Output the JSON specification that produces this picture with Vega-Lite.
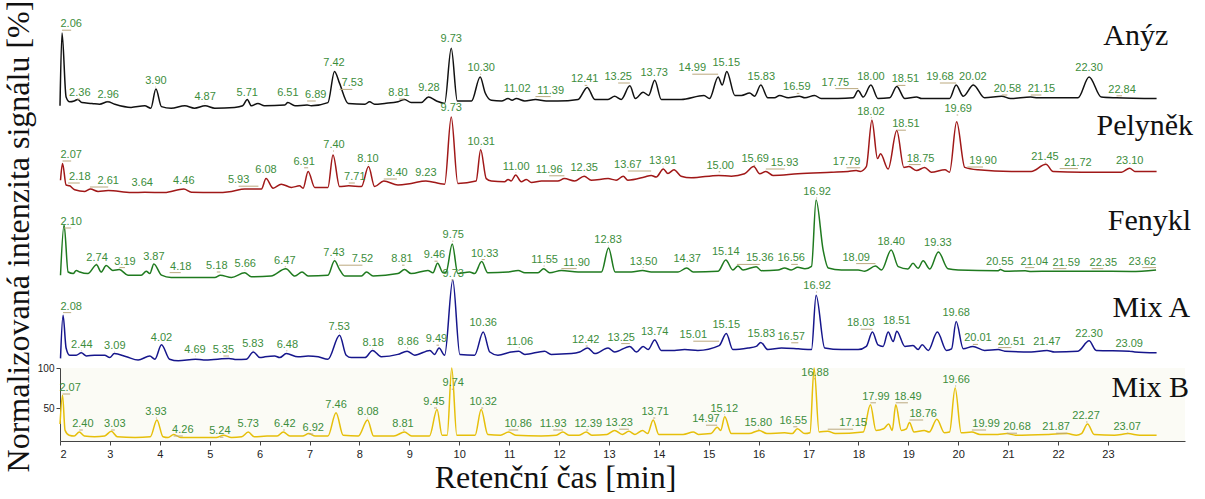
{
"$schema": "https://vega.github.io/schema/vega-lite/v6.json",
"padding": {"left": 1, "top": 0, "right": 0, "bottom": 0},
"background": "white",
"spacing": 0,
"bounds": "flush",
"config": {"view": {"stroke": null}, "line": {"interpolate": "monotone", "strokeWidth": 1.5}, "axis": {"labelFont": "Liberation Sans", "labelColor": "#222", "domainColor": "#444", "tickColor": "#444", "grid": false}},
"datasets": {
"anyz": [{"t":2.02,"v":9},{"t":2.06,"v":100},{"t":2.14,"v":20},{"t":2.21,"v":14},{"t":2.3,"v":15},{"t":2.37,"v":17},{"t":2.45,"v":13},{"t":2.65,"v":12},{"t":2.8,"v":11},{"t":2.96,"v":14},{"t":3.1,"v":11},{"t":3.42,"v":7},{"t":3.69,"v":9},{"t":3.81,"v":6},{"t":3.91,"v":30},{"t":4.02,"v":8},{"t":4.21,"v":6},{"t":4.48,"v":9},{"t":4.67,"v":6},{"t":4.88,"v":9},{"t":5.07,"v":6},{"t":5.46,"v":7},{"t":5.62,"v":9},{"t":5.71,"v":17},{"t":5.79,"v":9},{"t":5.92,"v":12},{"t":6.05,"v":9},{"t":6.45,"v":10},{"t":6.51,"v":13},{"t":6.65,"v":9},{"t":6.89,"v":10},{"t":6.97,"v":9},{"t":7.3,"v":13},{"t":7.43,"v":52},{"t":7.53,"v":37},{"t":7.7,"v":12},{"t":8.03,"v":11},{"t":8.12,"v":14},{"t":8.22,"v":11},{"t":8.42,"v":12},{"t":8.68,"v":14},{"t":8.81,"v":17},{"t":8.94,"v":13},{"t":9.14,"v":13},{"t":9.28,"v":20},{"t":9.44,"v":15},{"t":9.6,"v":12},{"t":9.73,"v":81},{"t":9.85,"v":15},{"t":10.13,"v":15},{"t":10.3,"v":45},{"t":10.4,"v":25},{"t":10.52,"v":16},{"t":10.72,"v":15},{"t":10.85,"v":18},{"t":10.93,"v":16},{"t":11.01,"v":18},{"t":11.18,"v":15},{"t":11.39,"v":17},{"t":11.6,"v":15},{"t":11.83,"v":15},{"t":12.23,"v":17},{"t":12.41,"v":32},{"t":12.56,"v":17},{"t":12.82,"v":17},{"t":12.95,"v":21},{"t":13.08,"v":17},{"t":13.25,"v":34},{"t":13.36,"v":18},{"t":13.51,"v":26},{"t":13.62,"v":22},{"t":13.74,"v":41},{"t":13.87,"v":17},{"t":14.26,"v":17},{"t":14.71,"v":22},{"t":14.82,"v":18},{"t":14.99,"v":45},{"t":15.07,"v":35},{"t":15.16,"v":52},{"t":15.32,"v":22},{"t":15.45,"v":22},{"t":15.61,"v":25},{"t":15.71,"v":21},{"t":15.83,"v":35},{"t":15.97,"v":19},{"t":16.1,"v":19},{"t":16.2,"v":22},{"t":16.37,"v":19},{"t":16.59,"v":21},{"t":16.7,"v":19},{"t":16.89,"v":22},{"t":17.02,"v":18},{"t":17.35,"v":18},{"t":17.65,"v":19},{"t":17.75,"v":28},{"t":17.85,"v":20},{"t":18,"v":35},{"t":18.14,"v":18},{"t":18.37,"v":19},{"t":18.51,"v":33},{"t":18.67,"v":18},{"t":18.9,"v":20},{"t":19,"v":18},{"t":19.55,"v":18},{"t":19.68,"v":35},{"t":19.82,"v":21},{"t":20.02,"v":35},{"t":20.24,"v":19},{"t":20.58,"v":21},{"t":20.75,"v":18},{"t":21.15,"v":20},{"t":21.29,"v":19},{"t":22.08,"v":19},{"t":22.3,"v":45},{"t":22.54,"v":20},{"t":22.84,"v":19},{"t":23.63,"v":18}],
"anyzPk": [{"t":2.06,"lt":2.24,"lv":111},{"t":2.36,"lt":2.41,"lv":25},{"t":2.96,"lt":2.97,"lv":22.5},{"t":3.9,"lt":3.91,"lv":40},{"t":4.87,"lt":4.88,"lv":20},{"t":5.71,"lt":5.71,"lv":25},{"t":6.51,"lt":6.51,"lv":25},{"t":6.89,"lt":7.06,"lv":22.5},{"t":7.42,"lt":7.42,"lv":62},{"t":7.53,"lt":7.78,"lv":37},{"t":8.81,"lt":8.7,"lv":25},{"t":9.28,"lt":9.29,"lv":31},{"t":9.73,"lt":9.73,"lv":92},{"t":10.3,"lt":10.32,"lv":56},{"t":11.02,"lt":11.03,"lv":29.6},{"t":11.39,"lt":11.69,"lv":28},{"t":12.41,"lt":12.36,"lv":42},{"t":13.25,"lt":13.02,"lv":45},{"t":13.73,"lt":13.73,"lv":50},{"t":14.99,"lt":14.48,"lv":56},{"t":15.15,"lt":15.15,"lv":63},{"t":15.83,"lt":15.84,"lv":45},{"t":16.59,"lt":16.54,"lv":32},{"t":17.75,"lt":17.3,"lv":38},{"t":18.0,"lt":18.0,"lv":45},{"t":18.51,"lt":18.68,"lv":42},{"t":19.68,"lt":19.36,"lv":45},{"t":20.02,"lt":20.01,"lv":45},{"t":20.58,"lt":20.69,"lv":30},{"t":21.15,"lt":21.36,"lv":30},{"t":22.3,"lt":22.3,"lv":56.6},{"t":22.84,"lt":22.95,"lv":29}],
"pelynek": [{"t":2.03,"v":21},{"t":2.07,"v":42},{"t":2.14,"v":15},{"t":2.21,"v":14},{"t":2.31,"v":9},{"t":2.51,"v":7},{"t":2.62,"v":10},{"t":2.77,"v":7},{"t":2.97,"v":8},{"t":3.43,"v":5.5},{"t":3.69,"v":6},{"t":4.08,"v":5.5},{"t":4.46,"v":10},{"t":4.61,"v":6},{"t":5.07,"v":5.5},{"t":5.4,"v":7},{"t":5.66,"v":10},{"t":5.99,"v":10},{"t":6.08,"v":23},{"t":6.22,"v":11},{"t":6.38,"v":16},{"t":6.58,"v":12},{"t":6.74,"v":14},{"t":6.81,"v":11},{"t":6.91,"v":32},{"t":7.04,"v":12},{"t":7.3,"v":12},{"t":7.4,"v":52.5},{"t":7.53,"v":13},{"t":7.71,"v":14},{"t":7.96,"v":13},{"t":8.1,"v":38},{"t":8.22,"v":13},{"t":8.4,"v":20},{"t":8.68,"v":15},{"t":8.94,"v":17},{"t":9.23,"v":20},{"t":9.6,"v":16},{"t":9.73,"v":100},{"t":9.86,"v":17},{"t":10.22,"v":20},{"t":10.31,"v":59},{"t":10.42,"v":23},{"t":10.52,"v":20},{"t":10.78,"v":19},{"t":10.85,"v":22},{"t":10.91,"v":20},{"t":11.0,"v":27.5},{"t":11.11,"v":19},{"t":11.21,"v":22},{"t":11.31,"v":18},{"t":11.51,"v":20},{"t":11.83,"v":20},{"t":11.96,"v":23},{"t":12.16,"v":20},{"t":12.35,"v":26},{"t":12.49,"v":21},{"t":12.82,"v":23},{"t":12.98,"v":21},{"t":13.12,"v":26},{"t":13.21,"v":21},{"t":13.54,"v":25},{"t":13.67,"v":27},{"t":13.77,"v":25},{"t":13.91,"v":35},{"t":14.0,"v":29.5},{"t":14.12,"v":34},{"t":14.26,"v":26},{"t":14.46,"v":24},{"t":15.0,"v":27},{"t":15.25,"v":26},{"t":15.51,"v":29},{"t":15.69,"v":38},{"t":15.81,"v":29},{"t":15.93,"v":32},{"t":16.07,"v":27},{"t":16.56,"v":29},{"t":17.22,"v":31},{"t":17.55,"v":32},{"t":17.71,"v":33},{"t":17.79,"v":32},{"t":17.91,"v":38},{"t":18.02,"v":96},{"t":18.13,"v":48},{"t":18.19,"v":54},{"t":18.34,"v":35},{"t":18.51,"v":83},{"t":18.65,"v":37},{"t":18.75,"v":38},{"t":18.9,"v":33},{"t":19.06,"v":37},{"t":19.19,"v":31},{"t":19.46,"v":34},{"t":19.55,"v":31},{"t":19.69,"v":94},{"t":19.85,"v":37},{"t":20.11,"v":34},{"t":20.77,"v":32},{"t":21.16,"v":32},{"t":21.45,"v":41},{"t":21.59,"v":32},{"t":22.15,"v":31},{"t":22.94,"v":31},{"t":23.1,"v":36},{"t":23.2,"v":32},{"t":23.63,"v":32}],
"pelynekPk": [{"t":2.07,"lt":2.24,"lv":52.5},{"t":2.18,"lt":2.41,"lv":25},{"t":2.61,"lt":2.97,"lv":20},{"t":3.64,"lt":3.64,"lv":18},{"t":4.46,"lt":4.46,"lv":20},{"t":5.93,"lt":5.54,"lv":21},{"t":6.08,"lt":6.08,"lv":34},{"t":6.91,"lt":6.83,"lv":44},{"t":7.4,"lt":7.42,"lv":65},{"t":7.71,"lt":7.83,"lv":25},{"t":8.1,"lt":8.09,"lv":48},{"t":8.4,"lt":8.66,"lv":30},{"t":9.23,"lt":9.23,"lv":30},{"t":9.73,"lt":9.73,"lv":111},{"t":10.31,"lt":10.32,"lv":69},{"t":11.0,"lt":11.01,"lv":38},{"t":11.96,"lt":11.66,"lv":34},{"t":12.35,"lt":12.35,"lv":36},{"t":13.67,"lt":13.21,"lv":40},{"t":13.91,"lt":13.9,"lv":45},{"t":15.0,"lt":15.03,"lv":39},{"t":15.69,"lt":15.72,"lv":47},{"t":15.93,"lt":16.3,"lv":42.5},{"t":17.79,"lt":17.52,"lv":44},{"t":18.02,"lt":18.0,"lv":106.6},{"t":18.51,"lt":18.69,"lv":91},{"t":18.75,"lt":18.98,"lv":48},{"t":19.69,"lt":19.72,"lv":110},{"t":19.9,"lt":20.21,"lv":45},{"t":21.45,"lt":21.43,"lv":50},{"t":21.72,"lt":22.08,"lv":43},{"t":23.1,"lt":23.1,"lv":45}],
"fenykl": [{"t":2.03,"v":6},{"t":2.1,"v":69},{"t":2.18,"v":10},{"t":2.28,"v":8},{"t":2.34,"v":12},{"t":2.41,"v":10},{"t":2.57,"v":8},{"t":2.74,"v":19},{"t":2.83,"v":10},{"t":2.93,"v":18},{"t":3.06,"v":12},{"t":3.19,"v":13},{"t":3.36,"v":6},{"t":3.62,"v":6},{"t":3.72,"v":11},{"t":3.79,"v":8},{"t":3.87,"v":20},{"t":4.02,"v":6},{"t":4.21,"v":3},{"t":5.07,"v":3},{"t":5.18,"v":6},{"t":5.4,"v":3},{"t":5.66,"v":9},{"t":5.79,"v":4},{"t":6.18,"v":5},{"t":6.47,"v":14},{"t":6.65,"v":5},{"t":6.79,"v":10},{"t":6.91,"v":5},{"t":7.3,"v":6},{"t":7.43,"v":24},{"t":7.53,"v":13},{"t":7.63,"v":5},{"t":7.96,"v":5},{"t":8.06,"v":10},{"t":8.19,"v":5},{"t":8.68,"v":8},{"t":8.81,"v":13},{"t":8.94,"v":8},{"t":9.27,"v":12},{"t":9.37,"v":9},{"t":9.46,"v":21},{"t":9.57,"v":9},{"t":9.63,"v":10},{"t":9.75,"v":45},{"t":9.86,"v":8},{"t":10.09,"v":10},{"t":10.19,"v":8},{"t":10.33,"v":23},{"t":10.45,"v":9},{"t":10.85,"v":10},{"t":11.05,"v":12},{"t":11.18,"v":9},{"t":11.44,"v":9},{"t":11.55,"v":14},{"t":11.67,"v":9},{"t":11.9,"v":12},{"t":12.23,"v":10},{"t":12.69,"v":10},{"t":12.83,"v":40},{"t":12.96,"v":10},{"t":13.28,"v":10},{"t":13.5,"v":12},{"t":13.67,"v":10},{"t":14.2,"v":10},{"t":14.37,"v":15},{"t":14.5,"v":10},{"t":14.99,"v":11},{"t":15.14,"v":25},{"t":15.28,"v":12.5},{"t":15.38,"v":17.5},{"t":15.48,"v":12.5},{"t":15.74,"v":16.7},{"t":15.84,"v":11.7},{"t":16.17,"v":12.5},{"t":16.3,"v":15},{"t":16.43,"v":12.5},{"t":16.56,"v":15.8},{"t":16.7,"v":14},{"t":16.83,"v":17},{"t":16.92,"v":100},{"t":17.06,"v":37},{"t":17.16,"v":15},{"t":17.42,"v":12.5},{"t":17.75,"v":12.5},{"t":17.88,"v":11},{"t":18.09,"v":17.5},{"t":18.21,"v":12.5},{"t":18.4,"v":37.5},{"t":18.54,"v":16.7},{"t":18.73,"v":13.75},{"t":18.83,"v":20.8},{"t":18.93,"v":14.6},{"t":19.03,"v":24},{"t":19.16,"v":13.75},{"t":19.33,"v":35},{"t":19.52,"v":14},{"t":19.72,"v":12.5},{"t":20.51,"v":11.7},{"t":20.55,"v":13},{"t":20.64,"v":11},{"t":21.04,"v":11.5},{"t":21.16,"v":10.6},{"t":21.59,"v":11},{"t":22.35,"v":11},{"t":23.13,"v":10.6},{"t":23.62,"v":12.5}],
"fenyklPk": [{"t":2.1,"lt":2.24,"lv":72.5},{"t":2.74,"lt":2.75,"lv":28},{"t":3.19,"lt":3.3,"lv":23},{"t":3.87,"lt":3.87,"lv":29},{"t":4.18,"lt":4.4,"lv":16.7},{"t":5.18,"lt":5.11,"lv":17.5},{"t":5.66,"lt":5.67,"lv":20},{"t":6.47,"lt":6.45,"lv":24},{"t":7.43,"lt":7.42,"lv":34},{"t":7.52,"lt":7.98,"lv":26},{"t":8.81,"lt":8.76,"lv":26},{"t":9.46,"lt":9.4,"lv":31},{"t":9.75,"lt":9.77,"lv":56},{"t":10.33,"lt":10.39,"lv":33},{"t":11.55,"lt":11.57,"lv":25},{"t":11.9,"lt":12.2,"lv":21.7},{"t":12.83,"lt":12.82,"lv":50},{"t":13.5,"lt":13.52,"lv":23},{"t":14.37,"lt":14.38,"lv":26},{"t":15.14,"lt":15.14,"lv":35},{"t":15.36,"lt":15.81,"lv":27},{"t":16.56,"lt":16.43,"lv":27},{"t":16.92,"lt":16.94,"lv":110},{"t":18.09,"lt":17.71,"lv":28},{"t":18.4,"lt":18.4,"lv":48},{"t":19.33,"lt":19.32,"lv":46},{"t":20.55,"lt":20.54,"lv":23},{"t":21.04,"lt":21.22,"lv":23},{"t":21.59,"lt":21.85,"lv":21.7},{"t":22.35,"lt":22.58,"lv":21.7},{"t":23.62,"lt":23.35,"lv":23}],
"mixa": [{"t":2.03,"v":2},{"t":2.08,"v":56},{"t":2.14,"v":15},{"t":2.21,"v":6},{"t":2.34,"v":6},{"t":2.44,"v":9},{"t":2.54,"v":5},{"t":2.7,"v":6},{"t":2.9,"v":6},{"t":3.0,"v":3},{"t":3.09,"v":8},{"t":3.33,"v":4},{"t":3.56,"v":0},{"t":3.79,"v":5},{"t":3.89,"v":1},{"t":4.02,"v":19},{"t":4.18,"v":1},{"t":4.35,"v":-1},{"t":4.69,"v":1},{"t":4.85,"v":0},{"t":5.13,"v":1},{"t":5.35,"v":2},{"t":5.5,"v":0.5},{"t":5.69,"v":1},{"t":5.83,"v":10},{"t":5.96,"v":3},{"t":6.06,"v":4},{"t":6.25,"v":5},{"t":6.35,"v":3},{"t":6.48,"v":8},{"t":6.71,"v":4},{"t":6.91,"v":5},{"t":7.11,"v":4},{"t":7.3,"v":1},{"t":7.53,"v":31},{"t":7.66,"v":6},{"t":7.76,"v":3},{"t":8.03,"v":3},{"t":8.18,"v":12},{"t":8.35,"v":4},{"t":8.68,"v":7},{"t":8.86,"v":11},{"t":9.01,"v":6},{"t":9.31,"v":12},{"t":9.4,"v":7},{"t":9.49,"v":15},{"t":9.6,"v":6},{"t":9.76,"v":100},{"t":9.9,"v":7},{"t":10.19,"v":6},{"t":10.36,"v":35},{"t":10.49,"v":10},{"t":10.65,"v":6},{"t":10.91,"v":10},{"t":11.06,"v":11},{"t":11.18,"v":7},{"t":11.57,"v":11},{"t":11.7,"v":7},{"t":12.1,"v":8},{"t":12.26,"v":10},{"t":12.42,"v":15},{"t":12.56,"v":8},{"t":12.82,"v":15},{"t":12.95,"v":10},{"t":13.25,"v":17},{"t":13.38,"v":10},{"t":13.51,"v":17},{"t":13.61,"v":13},{"t":13.74,"v":25},{"t":13.87,"v":12},{"t":14.13,"v":12},{"t":14.33,"v":13},{"t":14.59,"v":12},{"t":15.01,"v":18},{"t":15.15,"v":33},{"t":15.28,"v":13},{"t":15.58,"v":15},{"t":15.74,"v":17},{"t":15.83,"v":22},{"t":15.97,"v":13},{"t":16.24,"v":15},{"t":16.57,"v":14},{"t":16.83,"v":13},{"t":16.92,"v":81},{"t":17.09,"v":15},{"t":17.42,"v":13},{"t":17.75,"v":13},{"t":17.91,"v":17},{"t":18.03,"v":35},{"t":18.14,"v":19},{"t":18.24,"v":17},{"t":18.34,"v":35},{"t":18.44,"v":23},{"t":18.51,"v":36},{"t":18.67,"v":17},{"t":18.83,"v":18},{"t":18.93,"v":13},{"t":19.01,"v":19},{"t":19.13,"v":12},{"t":19.31,"v":35},{"t":19.49,"v":12},{"t":19.59,"v":14},{"t":19.68,"v":48},{"t":19.82,"v":14},{"t":20.01,"v":17},{"t":20.24,"v":12},{"t":20.51,"v":13},{"t":20.64,"v":11},{"t":21.16,"v":10},{"t":21.47,"v":12},{"t":21.62,"v":10},{"t":22.08,"v":11},{"t":22.3,"v":24},{"t":22.44,"v":12},{"t":23.09,"v":11},{"t":23.2,"v":10},{"t":23.63,"v":9}],
"mixaPk": [{"t":2.08,"lt":2.24,"lv":66.7},{"t":2.44,"lt":2.45,"lv":19},{"t":3.09,"lt":3.1,"lv":17.5},{"t":4.02,"lt":4.02,"lv":28},{"t":4.69,"lt":4.68,"lv":12.5},{"t":5.35,"lt":5.24,"lv":12.5},{"t":5.83,"lt":5.82,"lv":19.6},{"t":6.48,"lt":6.5,"lv":19},{"t":7.53,"lt":7.52,"lv":41.6},{"t":8.18,"lt":8.19,"lv":21.6},{"t":8.86,"lt":8.88,"lv":22.5},{"t":9.49,"lt":9.44,"lv":26},{"t":9.73,"lt":9.77,"lv":107.5},{"t":10.36,"lt":10.36,"lv":46},{"t":11.06,"lt":11.08,"lv":23},{"t":12.42,"lt":12.38,"lv":25},{"t":13.25,"lt":13.08,"lv":28},{"t":13.74,"lt":13.74,"lv":34.6},{"t":15.01,"lt":14.5,"lv":31},{"t":15.15,"lt":15.15,"lv":44},{"t":15.83,"lt":15.84,"lv":32.5},{"t":16.57,"lt":16.43,"lv":29},{"t":16.92,"lt":16.94,"lv":92.5},{"t":18.03,"lt":17.8,"lv":46},{"t":18.51,"lt":18.51,"lv":49},{"t":19.68,"lt":19.68,"lv":59},{"t":20.01,"lt":20.11,"lv":27},{"t":20.51,"lt":20.77,"lv":23},{"t":21.47,"lt":21.47,"lv":23},{"t":22.3,"lt":22.3,"lv":33},{"t":23.09,"lt":23.09,"lv":20}],
"mixb": [{"t":2.02,"v":30},{"t":2.07,"v":66},{"t":2.12,"v":22},{"t":2.2,"v":16},{"t":2.3,"v":15},{"t":2.4,"v":20},{"t":2.5,"v":15},{"t":2.7,"v":14},{"t":2.9,"v":15},{"t":3.03,"v":21},{"t":3.15,"v":14},{"t":3.5,"v":13},{"t":3.8,"v":14},{"t":3.93,"v":35},{"t":4.05,"v":14},{"t":4.15,"v":13},{"t":4.26,"v":17},{"t":4.4,"v":13},{"t":4.8,"v":13},{"t":5.1,"v":13},{"t":5.24,"v":16},{"t":5.4,"v":13},{"t":5.6,"v":14},{"t":5.73,"v":20},{"t":5.85,"v":14},{"t":6.1,"v":15},{"t":6.3,"v":15},{"t":6.42,"v":20},{"t":6.55,"v":15},{"t":6.8,"v":15},{"t":6.92,"v":18},{"t":7.05,"v":15},{"t":7.3,"v":15},{"t":7.46,"v":44},{"t":7.6,"v":16},{"t":7.9,"v":15},{"t":8.08,"v":35},{"t":8.2,"v":15},{"t":8.6,"v":15},{"t":8.81,"v":20},{"t":8.95,"v":15},{"t":9.3,"v":15},{"t":9.45,"v":48},{"t":9.55,"v":16},{"t":9.65,"v":16},{"t":9.74,"v":100},{"t":9.84,"v":16},{"t":10.2,"v":16},{"t":10.32,"v":48},{"t":10.45,"v":17},{"t":10.7,"v":16},{"t":10.86,"v":20},{"t":11.0,"v":16},{"t":11.5,"v":15},{"t":11.8,"v":16},{"t":11.93,"v":20},{"t":12.05,"v":16},{"t":12.25,"v":16},{"t":12.39,"v":20},{"t":12.5,"v":16},{"t":12.8,"v":17},{"t":12.95,"v":22},{"t":13.1,"v":17},{"t":13.23,"v":21},{"t":13.35,"v":17},{"t":13.5,"v":22},{"t":13.6,"v":18},{"t":13.71,"v":35},{"t":13.82,"v":17},{"t":14.3,"v":17},{"t":14.5,"v":20},{"t":14.6,"v":17},{"t":14.85,"v":18},{"t":14.97,"v":26},{"t":15.04,"v":22},{"t":15.12,"v":39},{"t":15.25,"v":18},{"t":15.6,"v":18},{"t":15.8,"v":22},{"t":15.95,"v":18},{"t":16.3,"v":19},{"t":16.45,"v":18},{"t":16.55,"v":24},{"t":16.7,"v":18},{"t":16.8,"v":19},{"t":16.88,"v":100},{"t":16.98,"v":20},{"t":17.15,"v":21},{"t":17.3,"v":18},{"t":17.85,"v":20},{"t":17.99,"v":54},{"t":18.1,"v":22},{"t":18.25,"v":24},{"t":18.35,"v":30},{"t":18.42,"v":22},{"t":18.49,"v":54},{"t":18.6,"v":22},{"t":18.7,"v":24},{"t":18.76,"v":32},{"t":18.85,"v":20},{"t":19.05,"v":22},{"t":19.15,"v":20},{"t":19.3,"v":36},{"t":19.45,"v":19},{"t":19.55,"v":20},{"t":19.66,"v":75},{"t":19.78,"v":19},{"t":19.99,"v":20},{"t":20.15,"v":17},{"t":20.5,"v":17},{"t":20.68,"v":18},{"t":20.85,"v":16},{"t":21.5,"v":17},{"t":21.87,"v":18},{"t":22.05,"v":16},{"t":22.15,"v":18},{"t":22.27,"v":30},{"t":22.4,"v":17},{"t":22.8,"v":16},{"t":23.07,"v":18},{"t":23.3,"v":16},{"t":23.63,"v":16}],
"mixbPk": [{"t":2.07,"lt":2.22,"lv":75},{"t":2.4,"lt":2.47,"lv":30},{"t":3.03,"lt":3.1,"lv":30},{"t":3.93,"lt":3.91,"lv":45},{"t":4.26,"lt":4.44,"lv":22.5},{"t":5.24,"lt":5.17,"lv":21},{"t":5.73,"lt":5.73,"lv":30},{"t":6.42,"lt":6.45,"lv":30},{"t":6.92,"lt":7.01,"lv":25},{"t":7.46,"lt":7.46,"lv":54},{"t":8.08,"lt":8.09,"lv":45},{"t":8.81,"lt":8.78,"lv":30},{"t":9.45,"lt":9.39,"lv":57.5},{"t":9.74,"lt":9.77,"lv":81},{"t":10.32,"lt":10.36,"lv":57.5},{"t":10.86,"lt":11.05,"lv":30},{"t":11.93,"lt":11.74,"lv":30},{"t":12.39,"lt":12.43,"lv":30},{"t":13.23,"lt":13.04,"lv":31},{"t":13.71,"lt":13.75,"lv":45},{"t":14.97,"lt":14.75,"lv":36},{"t":15.12,"lt":15.11,"lv":49},{"t":15.8,"lt":15.78,"lv":31},{"t":16.55,"lt":16.47,"lv":34},{"t":16.88,"lt":16.9,"lv":94},{"t":17.15,"lt":17.65,"lv":31},{"t":17.99,"lt":18.1,"lv":64},{"t":18.49,"lt":18.73,"lv":64},{"t":18.76,"lt":19.03,"lv":42.5},{"t":19.66,"lt":19.68,"lv":85},{"t":19.99,"lt":20.27,"lv":30},{"t":20.68,"lt":20.88,"lv":26},{"t":21.87,"lt":21.65,"lv":26},{"t":22.27,"lt":22.24,"lv":40},{"t":23.07,"lt":23.05,"lv":26}]
},
"vconcat": [
{"width": 1125, "height": 80, "layer": [
 {"data": {"name": "anyz"}, "mark": {"type": "line", "color": "#111111"}, "encoding": {"x": {"field": "t", "type": "quantitative", "scale": {"domain": [2.02, 24.19], "nice": false, "zero": false}, "axis": null}, "y": {"field": "v", "type": "quantitative", "scale": {"domain": [-18.75, 81.25], "nice": false, "zero": false}, "axis": null}}},
 {"data": {"name": "anyzPk"}, "mark": {"type": "rule", "color": "#bba97f", "strokeWidth": 1, "yOffset": 6}, "encoding": {"x": {"field": "t", "type": "quantitative", "scale": {"domain": [2.02, 24.19], "nice": false, "zero": false}, "axis": null}, "x2": {"field": "lt"}, "y": {"field": "lv", "type": "quantitative", "scale": {"domain": [-18.75, 81.25], "nice": false, "zero": false}, "axis": null}}},
 {"data": {"name": "anyzPk"}, "mark": {"type": "text", "color": "#3c8d3c", "fontSize": 11, "font": "Liberation Sans", "baseline": "middle"}, "encoding": {"x": {"field": "lt", "type": "quantitative", "scale": {"domain": [2.02, 24.19], "nice": false, "zero": false}, "axis": null}, "y": {"field": "lv", "type": "quantitative", "scale": {"domain": [-18.75, 81.25], "nice": false, "zero": false}, "axis": null}, "text": {"field": "t", "type": "quantitative", "format": ".2f"}}},
 {"data": {"values": [{}]}, "mark": {"type": "text", "font": "Liberation Serif", "fontSize": 30, "align": "right", "baseline": "alphabetic", "color": "#111111"}, "encoding": {"x": {"datum": 23.86, "type": "quantitative", "scale": {"domain": [2.02, 24.19], "nice": false, "zero": false}, "axis": null}, "y": {"datum": 85, "type": "quantitative", "scale": {"domain": [-18.75, 81.25], "nice": false, "zero": false}, "axis": null}, "text": {"value": "Anýz"}}}
]},
{"width": 1125, "height": 80, "layer": [
 {"data": {"name": "pelynek"}, "mark": {"type": "line", "color": "#a01818"}, "encoding": {"x": {"field": "t", "type": "quantitative", "scale": {"domain": [2.02, 24.19], "nice": false, "zero": false}, "axis": null}, "y": {"field": "v", "type": "quantitative", "scale": {"domain": [-13.75, 86.25], "nice": false, "zero": false}, "axis": null}}},
 {"data": {"name": "pelynekPk"}, "mark": {"type": "rule", "color": "#bba97f", "strokeWidth": 1, "yOffset": 6}, "encoding": {"x": {"field": "t", "type": "quantitative", "scale": {"domain": [2.02, 24.19], "nice": false, "zero": false}, "axis": null}, "x2": {"field": "lt"}, "y": {"field": "lv", "type": "quantitative", "scale": {"domain": [-13.75, 86.25], "nice": false, "zero": false}, "axis": null}}},
 {"data": {"name": "pelynekPk"}, "mark": {"type": "text", "color": "#3c8d3c", "fontSize": 11, "font": "Liberation Sans", "baseline": "middle"}, "encoding": {"x": {"field": "lt", "type": "quantitative", "scale": {"domain": [2.02, 24.19], "nice": false, "zero": false}, "axis": null}, "y": {"field": "lv", "type": "quantitative", "scale": {"domain": [-13.75, 86.25], "nice": false, "zero": false}, "axis": null}, "text": {"field": "t", "type": "quantitative", "format": ".2f"}}},
 {"data": {"values": [{}]}, "mark": {"type": "text", "font": "Liberation Serif", "fontSize": 30, "align": "right", "baseline": "alphabetic", "color": "#111111"}, "encoding": {"x": {"datum": 24.35, "type": "quantitative", "scale": {"domain": [2.02, 24.19], "nice": false, "zero": false}, "axis": null}, "y": {"datum": 77.5, "type": "quantitative", "scale": {"domain": [-13.75, 86.25], "nice": false, "zero": false}, "axis": null}, "text": {"value": "Pelyněk"}}}
]},
{"width": 1125, "height": 80, "layer": [
 {"data": {"name": "fenykl"}, "mark": {"type": "line", "color": "#1f7a1f"}, "encoding": {"x": {"field": "t", "type": "quantitative", "scale": {"domain": [2.02, 24.19], "nice": false, "zero": false}, "axis": null}, "y": {"field": "v", "type": "quantitative", "scale": {"domain": [-10, 90], "nice": false, "zero": false}, "axis": null}}},
 {"data": {"name": "fenyklPk"}, "mark": {"type": "rule", "color": "#bba97f", "strokeWidth": 1, "yOffset": 6}, "encoding": {"x": {"field": "t", "type": "quantitative", "scale": {"domain": [2.02, 24.19], "nice": false, "zero": false}, "axis": null}, "x2": {"field": "lt"}, "y": {"field": "lv", "type": "quantitative", "scale": {"domain": [-10, 90], "nice": false, "zero": false}, "axis": null}}},
 {"data": {"name": "fenyklPk"}, "mark": {"type": "text", "color": "#3c8d3c", "fontSize": 11, "font": "Liberation Sans", "baseline": "middle"}, "encoding": {"x": {"field": "lt", "type": "quantitative", "scale": {"domain": [2.02, 24.19], "nice": false, "zero": false}, "axis": null}, "y": {"field": "lv", "type": "quantitative", "scale": {"domain": [-10, 90], "nice": false, "zero": false}, "axis": null}, "text": {"field": "t", "type": "quantitative", "format": ".2f"}}},
 {"data": {"values": [{}]}, "mark": {"type": "text", "font": "Liberation Serif", "fontSize": 30, "align": "right", "baseline": "alphabetic", "color": "#111111"}, "encoding": {"x": {"datum": 24.31, "type": "quantitative", "scale": {"domain": [2.02, 24.19], "nice": false, "zero": false}, "axis": null}, "y": {"datum": 62.5, "type": "quantitative", "scale": {"domain": [-10, 90], "nice": false, "zero": false}, "axis": null}, "text": {"value": "Fenykl"}}}
]},
{"width": 1125, "height": 80, "layer": [
 {"data": {"name": "mixa"}, "mark": {"type": "line", "color": "#16168c"}, "encoding": {"x": {"field": "t", "type": "quantitative", "scale": {"domain": [2.02, 24.19], "nice": false, "zero": false}, "axis": null}, "y": {"field": "v", "type": "quantitative", "scale": {"domain": [-10, 90], "nice": false, "zero": false}, "axis": null}}},
 {"data": {"name": "mixaPk"}, "mark": {"type": "rule", "color": "#bba97f", "strokeWidth": 1, "yOffset": 6}, "encoding": {"x": {"field": "t", "type": "quantitative", "scale": {"domain": [2.02, 24.19], "nice": false, "zero": false}, "axis": null}, "x2": {"field": "lt"}, "y": {"field": "lv", "type": "quantitative", "scale": {"domain": [-10, 90], "nice": false, "zero": false}, "axis": null}}},
 {"data": {"name": "mixaPk"}, "mark": {"type": "text", "color": "#3c8d3c", "fontSize": 11, "font": "Liberation Sans", "baseline": "middle"}, "encoding": {"x": {"field": "lt", "type": "quantitative", "scale": {"domain": [2.02, 24.19], "nice": false, "zero": false}, "axis": null}, "y": {"field": "lv", "type": "quantitative", "scale": {"domain": [-10, 90], "nice": false, "zero": false}, "axis": null}, "text": {"field": "t", "type": "quantitative", "format": ".2f"}}},
 {"data": {"values": [{}]}, "mark": {"type": "text", "font": "Liberation Serif", "fontSize": 30, "align": "right", "baseline": "alphabetic", "color": "#111111"}, "encoding": {"x": {"datum": 24.29, "type": "quantitative", "scale": {"domain": [2.02, 24.19], "nice": false, "zero": false}, "axis": null}, "y": {"datum": 54, "type": "quantitative", "scale": {"domain": [-10, 90], "nice": false, "zero": false}, "axis": null}, "text": {"value": "Mix A"}}}
]},
{"width": 1125, "height": 73, "view": {"fill": "#fbfbf5"},
 "resolve": {"scale": {"x": "independent"}, "axis": {"x": "independent", "y": "independent"}},
 "layer": [
 {"data": {"name": "mixb"}, "mark": {"type": "line", "color": "#e6bf0a"}, "encoding": {"x": {"field": "t", "type": "quantitative", "scale": {"domain": [2.02, 24.19], "nice": false, "zero": false}, "axis": null}, "y": {"field": "v", "type": "quantitative", "scale": {"domain": [8.75, 100], "nice": false, "zero": false}, "axis": {"values": [50, 100], "labelFontSize": 10, "tickSize": 4, "labelPadding": 2, "title": "Normalizovaná intenzita signálu [%]", "titleFont": "Liberation Serif", "titleFontSize": 32, "titleFontWeight": "normal", "titleColor": "#111111", "titleAngle": -90, "titleBaseline": "middle", "titleAlign": "center", "titleX": -42, "titleY": -132}}}},
 {"data": {"name": "mixbPk"}, "mark": {"type": "rule", "color": "#bba97f", "strokeWidth": 1, "yOffset": 6}, "encoding": {"x": {"field": "t", "type": "quantitative", "scale": {"domain": [2.02, 24.19], "nice": false, "zero": false}, "axis": null}, "x2": {"field": "lt"}, "y": {"field": "lv", "type": "quantitative", "scale": {"domain": [8.75, 100], "nice": false, "zero": false}, "axis": null}}},
 {"data": {"name": "mixbPk"}, "mark": {"type": "text", "color": "#3c8d3c", "fontSize": 11, "font": "Liberation Sans", "baseline": "middle"}, "encoding": {"x": {"field": "lt", "type": "quantitative", "scale": {"domain": [2.02, 24.19], "nice": false, "zero": false}, "axis": null}, "y": {"field": "lv", "type": "quantitative", "scale": {"domain": [8.75, 100], "nice": false, "zero": false}, "axis": null}, "text": {"field": "t", "type": "quantitative", "format": ".2f"}}},
 {"data": {"values": [{}]}, "mark": {"type": "text", "font": "Liberation Serif", "fontSize": 30, "align": "right", "baseline": "alphabetic", "color": "#111111"}, "encoding": {"x": {"datum": 24.27, "type": "quantitative", "scale": {"domain": [2.02, 24.19], "nice": false, "zero": false}, "axis": null}, "y": {"datum": 64, "type": "quantitative", "scale": {"domain": [8.75, 100], "nice": false, "zero": false}, "axis": null}, "text": {"value": "Mix B"}}},
 {"data": {"name": "mixbPk"}, "mark": {"type": "rule", "opacity": 0}, "encoding": {"x": {"field": "t", "type": "quantitative", "scale": {"domain": [2, 24.545], "nice": false, "zero": false}, "axis": {"values": [2,3,4,5,6,7,8,9,10,11,12,13,14,15,16,17,18,19,20,21,22,23], "format": "d", "labelFontSize": 11, "tickSize": 4, "labelPadding": 3, "title": "Retenční čas [min]", "titleFont": "Liberation Serif", "titleFontSize": 32, "titleFontWeight": "normal", "titleColor": "#111111", "titlePadding": 3, "titleX": 495}}}}
]}
]
}
